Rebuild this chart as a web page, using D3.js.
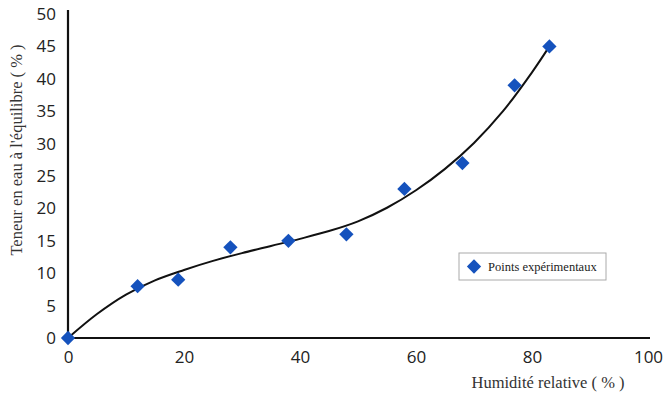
<!DOCTYPE html>
<html><head><meta charset="utf-8">
<script src="https://cdn.jsdelivr.net/npm/d3@7"></script>
<style>body{margin:0;background:#fff}svg{display:block}</style>
</head><body>
<svg id="c" width="667" height="395"></svg>
<script>
// Experimental points
const humidity = [0, 12, 19, 28, 38, 48, 58, 68, 77, 83];
const moisture = [0, 8, 9, 14, 15, 16, 23, 27, 39, 45];
// Fitted curve
const fitX = [0, 5, 10, 15, 20, 25, 30, 35, 40, 45, 50, 55, 60, 65, 70, 75, 80, 83];
const fitY = [0, 3.7, 6.7, 8.9, 10.5, 11.9, 13.1, 14.2, 15.3, 16.5, 18.0, 20.1, 22.8, 26.1, 30.1, 35.0, 41.0, 45.0];
const xTicks = [0, 20, 40, 60, 80, 100];
const yTicks = [0, 5, 10, 15, 20, 25, 30, 35, 40, 45, 50];
const xTitle = "Humidité relative ( % )";
const yTitle = "Teneur en eau à l'équilibre ( % )";
const legendLabel = "Points expérimentaux";

const svg = d3.select("#c");
const x = d3.scaleLinear().domain([0, 100]).range([68, 648]);
const y = d3.scaleLinear().domain([0, 50]).range([338, 14]);
const blue = "#1552bd";

// axes
const xAxis = svg.append("g").attr("transform", `translate(0,${y(0)})`)
  .call(d3.axisBottom(x).tickValues(xTicks).tickSize(0).tickPadding(13));
xAxis.select(".domain").attr("d", `M${x(0)},0H650`).attr("stroke", "#111").attr("stroke-width", 2.2);
xAxis.selectAll("text").attr("font-family", "Open Sans, sans-serif").attr("font-size", 17).attr("fill", "#222");

const yAxis = svg.append("g").attr("transform", `translate(${x(0)},0)`)
  .call(d3.axisLeft(y).tickValues(yTicks).tickSize(0).tickPadding(12));
yAxis.select(".domain").attr("d", `M0,10V${y(0)}`).attr("stroke", "#111").attr("stroke-width", 2.2);
yAxis.selectAll("text").attr("font-family", "Open Sans, sans-serif").attr("font-size", 17).attr("fill", "#222");

// fitted curve
const line = d3.line().x(d => x(d[0])).y(d => y(d[1])).curve(d3.curveCatmullRom);
svg.append("path").datum(fitX.map((v, i) => [v, fitY[i]]))
  .attr("d", line).attr("fill", "none").attr("stroke", "#111").attr("stroke-width", 2);

// points
const diamond = d3.symbol().type(d3.symbolDiamond2).size(130);
svg.append("g").selectAll("path").data(humidity.map((v, i) => [v, moisture[i]])).join("path")
  .attr("d", diamond).attr("transform", d => `translate(${x(d[0])},${y(d[1])})`)
  .attr("fill", blue);

// legend
const lg = svg.append("g");
lg.append("rect").attr("x", 459).attr("y", 253).attr("width", 147).attr("height", 27)
  .attr("fill", "#fff").attr("stroke", "#aaa").attr("stroke-width", 1);
lg.append("path").attr("d", diamond).attr("transform", "translate(474,266.5)").attr("fill", blue);
lg.append("text").attr("x", 488).attr("y", 271).text(legendLabel)
  .attr("font-family", "Liberation Serif, serif").attr("font-size", 12.5).attr("fill", "#222");

// titles
svg.append("text").attr("x", 548).attr("y", 388).attr("text-anchor", "middle").text(xTitle)
  .attr("font-family", "Liberation Serif, serif").attr("font-size", 16.5).attr("fill", "#333");
svg.append("text").attr("transform", "translate(22,150) rotate(-90)").attr("text-anchor", "middle").text(yTitle)
  .attr("font-family", "Liberation Serif, serif").attr("font-size", 16.5).attr("fill", "#333");
</script>
</body></html>
